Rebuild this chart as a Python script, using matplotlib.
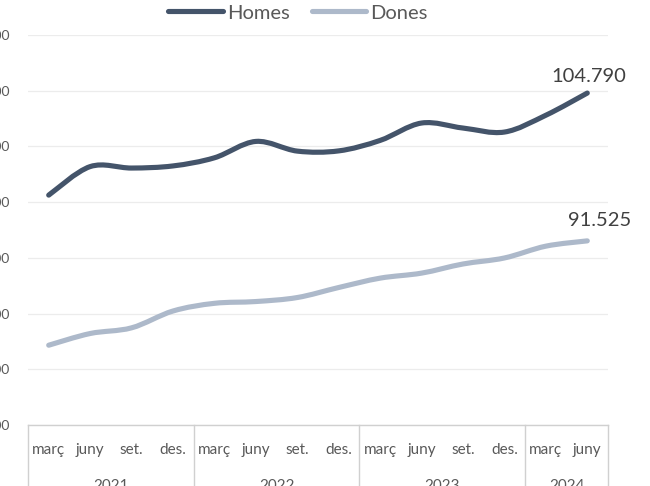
"""Homes / Dones trimestral 2021-2024 - linia suavitzada estil Excel."""
import numpy as np
import matplotlib
matplotlib.use("Agg")
import matplotlib.pyplot as plt
from matplotlib.path import Path
from matplotlib.patches import PathPatch
from matplotlib.lines import Line2D
import matplotlib.transforms as mtransforms

# dades
mesos = ["març", "juny", "set.", "des.", "març", "juny", "set.", "des.",
         "març", "juny", "set.", "des.", "març", "juny"]
anys = ["2021", "2022", "2023", "2024"]
mesos_per_any = [4, 4, 4, 2]
homes = [95630, 98190, 98060, 98250, 98980, 100450, 99580,
         99600, 100540, 102100, 101650, 101290, 102800, 104790]
dones = [82160, 83210, 83720, 85230, 85920, 86080, 86440,
         87340, 88180, 88630, 89450, 89990, 91050, 91525]

COLORS = {"homes": "#44546A", "dones": "#ADB9CA"}
TXT = "#595959"

plt.rcParams["font.family"] = ["Lato", "DejaVu Sans"]


def smooth_path(xs, ys):
    # bezier com la linia suavitzada d'Excel
    pts = np.column_stack([xs, ys]).astype(float)
    n = len(pts)
    verts = [pts[0]]
    codes = [Path.MOVETO]
    for i in range(n - 1):
        p0 = pts[i - 1] if i > 0 else pts[i]
        p1, p2 = pts[i], pts[i + 1]
        p3 = pts[i + 2] if i + 2 < n else pts[i + 1]
        verts += [p1 + (p2 - p0) / 6, p2 - (p3 - p1) / 6, p2]
        codes += [Path.CURVE4] * 3
    return Path(verts, codes)


fig = plt.figure(figsize=(6.5, 4.86), dpi=100)
ax = fig.add_axes([28 / 650, 61 / 486, 580 / 650, 390 / 486])

x = np.arange(len(mesos))
for vals, key in [(homes, "homes"), (dones, "dones")]:
    ax.add_patch(PathPatch(smooth_path(x, vals), fill=False, edgecolor=COLORS[key],
                           lw=3.7, capstyle="round", joinstyle="round", zorder=3))

ax.set_xlim(-0.5, len(mesos) - 0.5)
ax.set_ylim(75000, 110000)
ax.set_yticks(np.arange(75000, 110001, 5000))
ax.set_yticklabels([f"{v:,.0f}".replace(",", ".") for v in np.arange(75000, 110001, 5000)])
ax.yaxis.grid(True, color="#ececec", lw=0.9)
ax.set_axisbelow(True)
ax.tick_params(axis="y", length=0, pad=13, labelsize=10, labelcolor=TXT)

ax.set_xticks(x)
ax.set_xticklabels(mesos)
ax.tick_params(axis="x", length=0, pad=13, labelsize=11, labelcolor=TXT)

for s in ["top", "left", "right"]:
    ax.spines[s].set_visible(False)
ax.spines["bottom"].set_color("#d0d0d0")
ax.spines["bottom"].set_linewidth(1)

# eix de categories en dos nivells
trans = mtransforms.blended_transform_factory(ax.transData, ax.transAxes)
edges = np.concatenate([[0], np.cumsum(mesos_per_any)]) - 0.5
for e in edges:
    ax.plot([e, e], [0, -0.3], transform=trans, color="#d0d0d0", lw=1, clip_on=False)
for i, a in enumerate(anys):
    ax.text((edges[i] + edges[i + 1]) / 2, -0.139, a, transform=trans, ha="center",
            va="top", fontsize=11, color=TXT)

# etiquetes de l'ultim valor
ax.annotate(f"{homes[-1]:,.0f}".replace(",", "."), (x[-1], homes[-1]),
            xytext=(1, 12), textcoords="offset points", ha="center", va="center",
            fontsize=14.5, color="#404040")
ax.annotate(f"{dones[-1]:,.0f}".replace(",", "."), (x[-1], dones[-1]),
            xytext=(9, 15), textcoords="offset points", ha="center", va="center",
            fontsize=14.5, color="#404040")

handles = [Line2D([], [], color=COLORS["homes"], lw=3.7, solid_capstyle="round"),
           Line2D([], [], color=COLORS["dones"], lw=3.7, solid_capstyle="round")]
fig.legend(handles, ["Homes", "Dones"], loc="center", bbox_to_anchor=(298 / 650, 1 - 13 / 486),
           ncol=2, frameon=False, fontsize=14.5, labelcolor=TXT, handlelength=2.7,
           handletextpad=0.2, columnspacing=1.1, borderpad=0)

fig.savefig("out.png", dpi=100)
